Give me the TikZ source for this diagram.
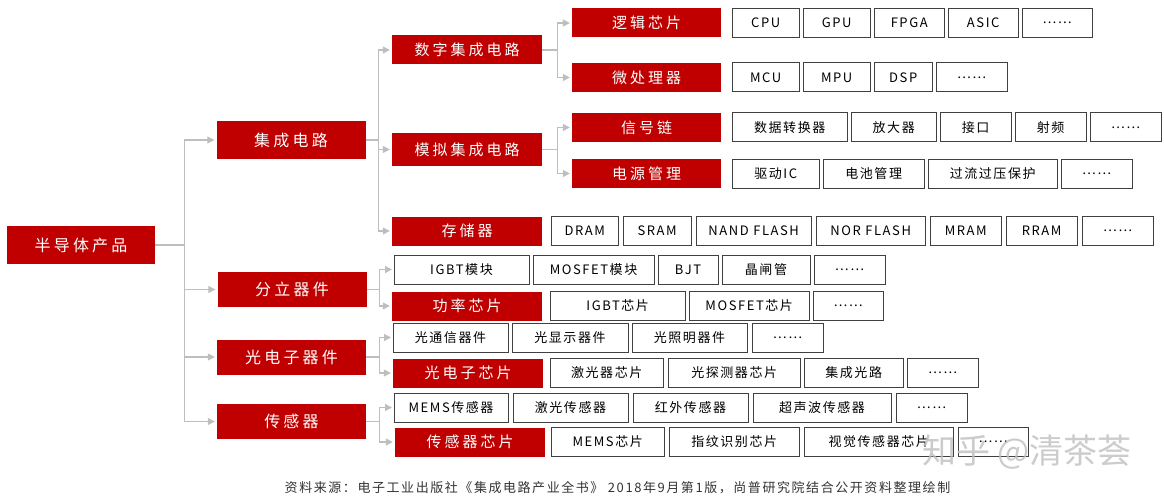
\documentclass[tikz,border=0pt]{standalone}
\usepackage{fontspec}
\setmainfont{Noto Sans CJK SC}
\newfontfamily\redfont[LetterSpace=20]{Noto Sans CJK SC}
\newfontfamily\cellfont[LetterSpace=12]{Noto Sans CJK SC}
\usepackage{tikz}
\usepackage{xcolor}
\usetikzlibrary{positioning}
\usetikzlibrary{arrows.meta}
\definecolor{chipred}{RGB}{192,0,0}
\definecolor{linkgray}{RGB}{190,190,190}
\definecolor{cellline}{RGB}{64,64,64}
\tikzstyle{rootbox} = [rectangle, minimum width=148pt, minimum height=38pt, text centered, fill=chipred, text=white, inner sep=0pt, font=\redfont\fontsize{16}{18}\selectfont]
\tikzstyle{headbox} = [rectangle, minimum width=149pt, minimum height=35pt, text centered, fill=chipred, text=white, inner sep=0pt, font=\redfont\fontsize{16}{18}\selectfont]
\tikzstyle{redbox} = [rectangle, minimum width=150pt, minimum height=29pt, text centered, fill=chipred, text=white, inner sep=0pt, font=\redfont\fontsize{15}{17}\selectfont]
\tikzstyle{cell} = [rectangle, minimum height=29pt, text centered, draw=cellline, line width=1pt, fill=white, inner sep=0pt, outer sep=0pt, font=\cellfont\fontsize{13}{15}\selectfont]
\tikzstyle{link} = [linkgray, line width=1.3pt]
\tikzstyle{arrow} = [link, -{Triangle[length=7pt,width=7pt]}, shorten >=2pt]

\begin{document}
\begin{tikzpicture}[x=1pt, y=-1pt]
        \useasboundingbox (0,0) rectangle (1164,500);

        \node (root) [rootbox] at (81,245) {半导体产品};

        \node (ic) [headbox, minimum height=38pt] at (291,140) {集成电路};
        \node (disc) [headbox] at (292,289.5) {分立器件};
        \node (opto) [headbox] at (291.5,357) {光电子器件};
        \node (sens) [headbox] at (291.5,421.5) {传感器};

        \node (digital) [redbox] at (467,50) {数字集成电路};
        \node (analog) [redbox, minimum height=32pt] at (467,149.5) {模拟集成电路};
        \node (memory) [redbox] at (467,231) {存储器};
        \node (power) [redbox] at (467,306) {功率芯片};
        \node (optochip) [redbox] at (468,373) {光电子芯片};
        \node (senschip) [redbox] at (470,442) {传感器芯片};

        \node (logic) [redbox, minimum width=149pt] at (646.5,23) {逻辑芯片};
        \node (micro) [redbox, minimum width=149pt] at (646.5,77.5) {微处理器};
        \node (signal) [redbox, minimum width=149pt] at (646.5,127.5) {信号链};
        \node (pmu) [redbox, minimum width=149pt] at (646.5,173.5) {电源管理};

        \node (cpu) [cell, minimum width=67pt, right=11pt of logic] {CPU};
        \node (gpu) [cell, minimum width=67pt, right=4pt of cpu] {GPU};
        \node (fpga) [cell, minimum width=70pt, right=4pt of gpu] {FPGA};
        \node (asic) [cell, minimum width=70pt, right=4pt of fpga] {ASIC};
        \node (logicmore) [cell, minimum width=70pt, right=4pt of asic] {……};

        \node (mcu) [cell, minimum width=67pt, right=11pt of micro] {MCU};
        \node (mpu) [cell, minimum width=67pt, right=4pt of mcu] {MPU};
        \node (dsp) [cell, minimum width=58pt, right=4pt of mpu] {DSP};
        \node (micromore) [cell, minimum width=71pt, right=4pt of dsp] {……};

        \node (adc) [cell, minimum width=115pt, right=11pt of signal] {数据转换器};
        \node (amp) [cell, minimum width=85pt, right=4pt of adc] {放大器};
        \node (iface) [cell, minimum width=71pt, right=4pt of amp] {接口};
        \node (rf) [cell, minimum width=71pt, right=4pt of iface] {射频};
        \node (signalmore) [cell, minimum width=71pt, right=4pt of rf] {……};

        \node (driver) [cell, minimum width=87pt, right=11pt of pmu] {驱动IC};
        \node (battery) [cell, minimum width=101pt, right=4pt of driver] {电池管理};
        \node (protect) [cell, minimum width=129pt, right=4pt of battery] {过流过压保护};
        \node (pmumore) [cell, minimum width=71pt, right=4pt of protect] {……};

        \node (dram) [cell, minimum width=67pt, right=9pt of memory] {DRAM};
        \node (sram) [cell, minimum width=68pt, right=5pt of dram] {SRAM};
        \node (nand) [cell, minimum width=115pt, right=5pt of sram] {NAND FLASH};
        \node (nor) [cell, minimum width=109pt, right=5pt of nand] {NOR FLASH};
        \node (mram) [cell, minimum width=71pt, right=5pt of nor] {MRAM};
        \node (rram) [cell, minimum width=71pt, right=5pt of mram] {RRAM};
        \node (memorymore) [cell, minimum width=71pt, right=5pt of rram] {……};

        \node (igbtmod) [cell, minimum width=135pt, anchor=west] at (394,269.5) {IGBT模块};
        \node (mosmod) [cell, minimum width=121pt, right=4pt of igbtmod] {MOSFET模块};
        \node (bjt) [cell, minimum width=60pt, right=4pt of mosmod] {BJT};
        \node (thyristor) [cell, minimum width=88pt, right=4pt of bjt] {晶闸管};
        \node (discmore) [cell, minimum width=71pt, right=4pt of thyristor] {……};

        \node (igbtchip) [cell, minimum width=135pt, right=8pt of power] {IGBT芯片};
        \node (moschip) [cell, minimum width=120pt, right=4pt of igbtchip] {MOSFET芯片};
        \node (powermore) [cell, minimum width=70pt, right=4pt of moschip] {……};

        \node (optocomm) [cell, minimum width=115pt, anchor=west] at (393,337.5) {光通信器件};
        \node (optodisp) [cell, minimum width=116pt, right=4pt of optocomm] {光显示器件};
        \node (optolight) [cell, minimum width=115pt, right=4pt of optodisp] {光照明器件};
        \node (optomore) [cell, minimum width=71pt, right=5pt of optolight] {……};

        \node (laserchip) [cell, minimum width=113pt, right=7pt of optochip] {激光器芯片};
        \node (detchip) [cell, minimum width=132pt, right=5pt of laserchip] {光探测器芯片};
        \node (pic) [cell, minimum width=99pt, right=4pt of detchip] {集成光路};
        \node (optochipmore) [cell, minimum width=71pt, right=4pt of pic] {……};

        \node (memssens) [cell, minimum width=114pt, anchor=west] at (394,407.5) {MEMS传感器};
        \node (lasersens) [cell, minimum width=115pt, right=5pt of memssens] {激光传感器};
        \node (irsens) [cell, minimum width=115pt, right=5pt of lasersens] {红外传感器};
        \node (ussens) [cell, minimum width=138pt, right=5pt of irsens] {超声波传感器};
        \node (sensmore) [cell, minimum width=71pt, right=5pt of ussens] {……};

        \node (memschip) [cell, minimum width=113pt, right=6pt of senschip] {MEMS芯片};
        \node (fingerchip) [cell, minimum width=130pt, right=5pt of memschip] {指纹识别芯片};
        \node (visionchip) [cell, minimum width=149pt, right=5pt of fingerchip] {视觉传感器芯片};
        \node (senschipmore) [cell, minimum width=70pt, right=5pt of visionchip] {……};

        \coordinate (rootfork) at ([xshift=29pt]root.east);
        \coordinate (icfork) at ([xshift=13pt]ic.east);
        \coordinate (digitalfork) at ([xshift=15pt]digital.east);
        \coordinate (analogfork) at ([xshift=15pt]analog.east);
        \coordinate (discfork) at ([xshift=13pt]disc.east);
        \coordinate (optofork) at ([xshift=13pt]opto.east);
        \coordinate (sensfork) at ([xshift=13pt]sens.east);

        \draw [link] (root) -- (rootfork);
        \draw [arrow] (rootfork) |- (ic);
        \draw [arrow] (rootfork) |- (disc);
        \draw [arrow] (rootfork) |- (opto);
        \draw [arrow] (rootfork) |- (sens);

        \draw [link] (ic) -- (icfork);
        \draw [arrow] (icfork) |- (digital);
        \draw [arrow] (icfork) |- (analog);
        \draw [arrow] (icfork) |- (memory);

        \draw [link] (digital) -- (digitalfork);
        \draw [arrow] (digitalfork) |- (logic);
        \draw [arrow] (digitalfork) |- (micro);

        \draw [link] (analog) -- (analogfork);
        \draw [arrow] (analogfork) |- (signal);
        \draw [arrow] (analogfork) |- (pmu);

        \draw [link] (disc) -- (discfork);
        \draw [arrow] (discfork) |- (igbtmod);
        \draw [arrow] (discfork) |- (power);

        \draw [link] (opto) -- (optofork);
        \draw [arrow] (optofork) |- (optocomm);
        \draw [arrow] (optofork) |- (optochip);

        \draw [link] (sens) -- (sensfork);
        \draw [arrow] (sensfork) |- (memssens);
        \draw [arrow] (sensfork) |- (senschip);

        \node (source) [text=black!80, font=\cellfont\fontsize{13}{15}\selectfont] at (617.5,488) {资料来源：电子工业出版社《集成电路产业全书》 2018年9月第1版，尚普研究院结合公开资料整理绘制};
        \node (mark) [text=black!25, text opacity=0.8, font=\fontsize{34}{36}\selectfont] at (1027,452) {知乎 @清茶荟};
    \end{tikzpicture}
\end{document}
